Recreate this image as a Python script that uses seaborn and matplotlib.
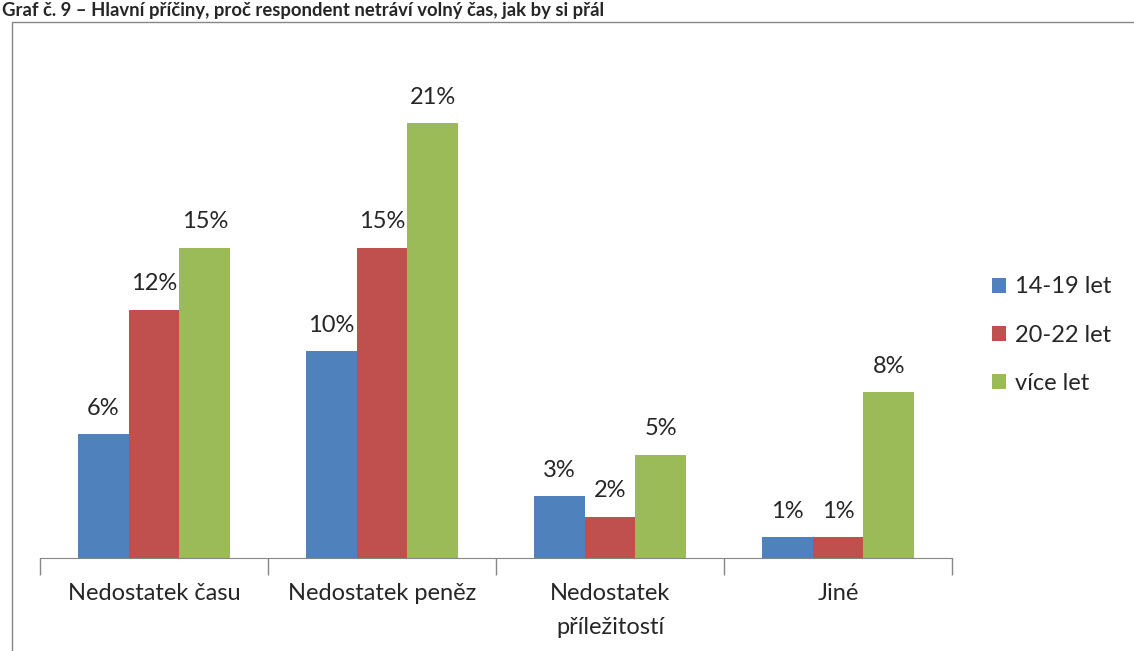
import pandas as pd
import numpy as np
import matplotlib
matplotlib.use('Agg')
import matplotlib.pyplot as plt
from matplotlib.patches import Rectangle
import seaborn as sns

# data
categories = ['Nedostatek času', 'Nedostatek peněz', 'Nedostatek\npříležitostí', 'Jiné']
groups = ['14-19 let', '20-22 let', 'více let']
val_14_19 = [6, 10, 3, 1]
val_20_22 = [12, 15, 2, 1]
val_vice = [15, 21, 5, 8]
colors = ['#4F81BD', '#C0504D', '#9BBB59']

df = pd.DataFrame({
    'kategorie': categories * 3,
    'skupina': [g for g in groups for _ in categories],
    'hodnota': val_14_19 + val_20_22 + val_vice,
})

sns.set_style('white')
plt.rcParams['font.family'] = ['Lato', 'DejaVu Sans']

W, H = 1134, 651
FS = 17
fig = plt.figure(figsize=(W / 100, H / 100), dpi=100)
ax = fig.add_axes([40 / W, (H - 558) / H, (952 - 40) / W, (558 - 40.5) / H])

sns.barplot(data=df, x='kategorie', y='hodnota', hue='skupina', order=categories,
            hue_order=groups, palette=colors, width=0.67, saturation=1,
            linewidth=0, ax=ax)

for cont in ax.containers:
    ax.bar_label(cont, fmt='%d%%', padding=11, fontsize=FS)

ax.set_ylim(0, 25)
ax.set_xlim(-0.5, 3.5)
ax.set_xlabel('')
ax.set_ylabel('')
ax.set_yticks([])
for s in ['top', 'right', 'left']:
    ax.spines[s].set_visible(False)
ax.spines['bottom'].set_color('#868686')
ax.set_xticks(np.arange(-0.5, 4, 1), minor=True)
ax.tick_params(axis='x', which='major', bottom=False, length=0, pad=18, labelsize=FS)
ax.tick_params(axis='x', which='minor', bottom=True, length=12, width=1,
               color='#868686', direction='out')
for lab in ax.get_xticklabels():
    lab.set_linespacing(1.75)
    lab.set_verticalalignment('top')

leg = ax.legend(loc='center left', bbox_to_anchor=(971 / W, (H - 335) / H),
                bbox_transform=fig.transFigure, frameon=False, fontsize=FS,
                handlelength=0.6, handleheight=0.6, labelspacing=1.15, handletextpad=0.35)

# chart frame (extends beyond figure on right/bottom)
fig.add_artist(Rectangle((12 / W, -0.1), 1.2, (H - 22) / H + 0.1, transform=fig.transFigure,
                         fill=False, edgecolor='#868686', linewidth=1))

fig.text(2 / W, 1 - 16 / H, 'Graf č. 9 – Hlavní příčiny, proč respondent netráví volný čas, jak by si přál',
         fontsize=13.3, fontweight='bold', va='baseline', ha='left')

fig.savefig('out.png', dpi=100)
